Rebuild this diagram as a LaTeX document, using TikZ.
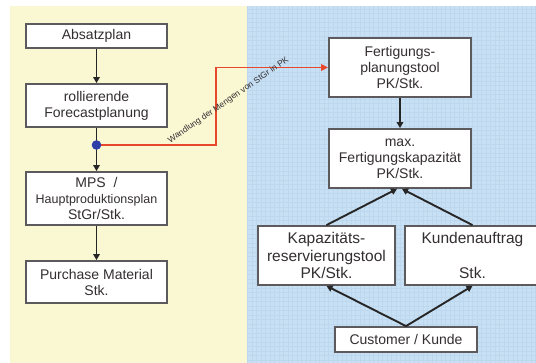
\documentclass[tikz,border=0pt]{standalone}
\usepackage{fontspec}
\setmainfont{Liberation Sans}
\usetikzlibrary{arrows.meta}
\definecolor{paneyellow}{HTML}{FAF7D3}
\definecolor{paneblue}{HTML}{C8E0F4}
\definecolor{gridblue}{HTML}{B4D0EA}
\definecolor{boxline}{HTML}{5C5A5C}
\definecolor{boxtext}{HTML}{332E31}
\definecolor{flowred}{HTML}{E8472E}
\definecolor{dotblue}{HTML}{2F3EA6}
\tikzset{
  stepbox/.style={draw=boxline, line width=1.8pt, fill=white, text=boxtext,
    align=center, inner sep=0pt, font=\fontsize{14}{16}\selectfont},
  bigbox/.style={stepbox, font=\fontsize{15.5}{17.5}\selectfont},
  flow/.style={line width=1.9pt, black!85, -{Triangle[length=6pt,width=6.5pt]}},
  redflow/.style={line width=1.7pt, flowred, -{Triangle[length=7pt,width=6.5pt]}}
}
\begin{document}
\begin{tikzpicture}[x=1pt,y=-1pt]
\useasboundingbox (0,0) rectangle (536,363);
% background panels
\fill[paneyellow] (10,6) rectangle (247,363);
\fill[paneblue] (247,6) rectangle (536,363);
\begin{scope}
\clip (247,6) rectangle (536,363);
\draw[gridblue, line width=0.3pt, opacity=0.5, step=4.5pt] (247,6) grid (540,366);
\end{scope}

% left column
\node[stepbox, minimum width=141pt, minimum height=24pt] (absatz) at (96.5,36) {Absatzplan};
\node[stepbox, minimum width=141pt, minimum height=43pt] (roll) at (96.5,105.5) {rollierende\\Forecastplanung};
\node[stepbox, minimum width=141pt, minimum height=53pt] (mps) at (96.5,198.5)
  {MPS~~/\\{\fontsize{12.5}{15.5}\selectfont Hauptproduktionsplan}\\StGr/Stk.};
\node[stepbox, minimum width=141pt, minimum height=42pt] (purch) at (96.5,282) {Purchase Material\\Stk.};

% right column
\node[stepbox, minimum width=142pt, minimum height=59pt] (fpt) at (400,67.5) {Fertigungs-\\planungstool\\PK/Stk.};
\node[stepbox, minimum width=142pt, minimum height=59pt] (maxk) at (400,158.5) {max.\\Fertigungskapazität\\PK/Stk.};
\node[bigbox, minimum width=137pt, minimum height=59pt] (kap) at (326.5,255.5) {Kapazitäts-\\reservierungstool\\PK/Stk.};
\node[bigbox, minimum width=135pt, minimum height=59pt] (kund) at (472.5,255.5) {Kundenauftrag\\[17.5pt]Stk.};
\node[stepbox, minimum width=142pt, minimum height=25pt] (cust) at (406,339.5) {Customer / Kunde};

% branch point
\coordinate (split) at (96.5,145);
\coordinate (bend1) at (216,145);
\coordinate (bend2) at (216,67.5);

% connectors
\draw[flow] (absatz) -- (roll);
\draw[flow] (roll) -- (mps);
\draw[flow] (mps) -- (purch);
\draw[redflow] (split) -- (bend1) -- (bend2) -- (fpt.west);
\fill[dotblue] (split) circle (4.8pt);
\draw[flow] (fpt) -- (maxk);
\draw[flow] (kap.north) -- ([xshift=-3pt]maxk.south);
\draw[flow] (kund.north) -- ([xshift=2pt]maxk.south);
\draw[flow] (cust.north) -- (kap.south);
\draw[flow] (cust.north) -- (kund.south);

\node[text=boxtext, font=\fontsize{8.5}{10}\selectfont, rotate=34.6, inner sep=0pt] (wandlung) at (228.5,100.5)
  {Wandlung der Mengen von StGr in PK};
\end{tikzpicture}
\end{document}
